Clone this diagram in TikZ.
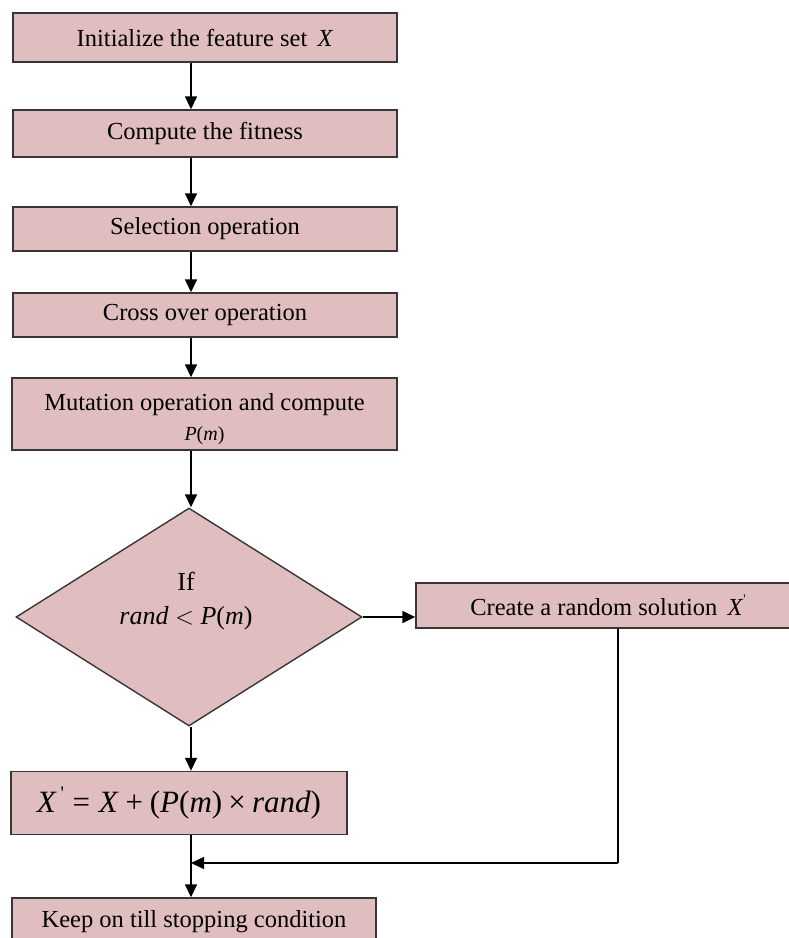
\documentclass[tikz,border=0pt]{standalone}
\usepackage{fontspec}
\setmainfont{Liberation Serif}
\usetikzlibrary{shapes.geometric,arrows.meta}
\definecolor{boxfill}{RGB}{224,189,191}
\definecolor{boxline}{RGB}{55,55,55}
\newcommand{\pr}{\raisebox{0.5em}{\fontsize{13}{13}\selectfont\textquotesingle}}
\newcommand{\bigpr}{\raisebox{0.42em}{\fontsize{19}{19}\selectfont\textquotesingle}}
\tikzset{
  procbox/.style={draw=boxline, line width=1.4pt, fill=boxfill, rectangle, inner sep=0pt,
    font=\fontsize{24.5}{29}\selectfont, align=center},
  decbox/.style={draw=boxline, line width=1.4pt, fill=boxfill, diamond, inner sep=0pt},
  txt/.style={font=\fontsize{26}{34}\selectfont, align=center, inner sep=0pt},
  conn/.style={line width=1.5pt, draw=black},
  arr/.style={conn, -{Triangle[length=13pt,width=12pt]}}
}
\begin{document}
\begin{tikzpicture}[x=1pt,y=-1pt]
\useasboundingbox (0,0) rectangle (789,938);
\clip (0,0) rectangle (789,938);
% axis of the main column
\coordinate (ax) at (191,0);
% nodes
\node[procbox, minimum width=384pt, minimum height=49pt] (b1) at (205,37.5) {Initialize the feature set \,\textit{X}};
\node[procbox, minimum width=384pt, minimum height=47pt] (b2) at (205,133.5) {Compute the fitness};
\node[procbox, minimum width=384pt, minimum height=44pt] (b3) at (205,229) {Selection operation};
\node[procbox, minimum width=384pt, minimum height=44pt] (b4) at (205,315) {Cross over operation};
\node[procbox, minimum width=385pt, minimum height=72pt] (b5) at (204.5,414) {\rule{0pt}{27pt}Mutation operation and compute\\[1pt]{\fontsize{20}{24}\selectfont\textit{P}(\textit{m})}};
\node[decbox, minimum width=346pt, minimum height=218pt] (d) at (189,617) {};
\node[txt] (dt) at (186,601) {If\\\textit{rand} \(<\) \textit{P}(\textit{m})};
\node[procbox, minimum width=384pt, minimum height=45pt] (cr) at (608,605.5) {Create a random solution \,\textit{X}\pr};
\node[procbox, minimum width=336pt, minimum height=63pt, font=\fontsize{31}{34}\selectfont] (xp) at (179,803)
  {\textit{X}\hspace{0.12em}\bigpr\hspace{0.28em}=\hspace{0.28em}\textit{X}\hspace{0.22em}+\hspace{0.22em}(\textit{P}(\textit{m})\hspace{0.2em}\texttimes\hspace{0.2em}\textit{rand})};
\node[procbox, minimum width=364pt, minimum height=48pt] (fin) at (194,922) {Keep on till stopping condition};
\coordinate (vx) at (618,863);
\coordinate (j) at (191,863);
% connectors
\draw[arr] (b1.south -| ax) -- (b2.north -| ax);
\draw[arr] (b2.south -| ax) -- (b3.north -| ax);
\draw[arr] (b3.south -| ax) -- (b4.north -| ax);
\draw[arr] (b4.south -| ax) -- (b5.north -| ax);
\draw[arr] (b5.south -| ax) -- (d.north -| ax);
\draw[arr] (d.east) -- (d.east -| cr.west);
\draw[arr] (d.south -| ax) -- (xp.north -| ax);
\draw[arr] (xp.south -| ax) -- (fin.north -| ax);
\draw[conn] (cr.south -| vx) -- (vx);
\draw[arr] (vx) -- (j);
\end{tikzpicture}
\end{document}
